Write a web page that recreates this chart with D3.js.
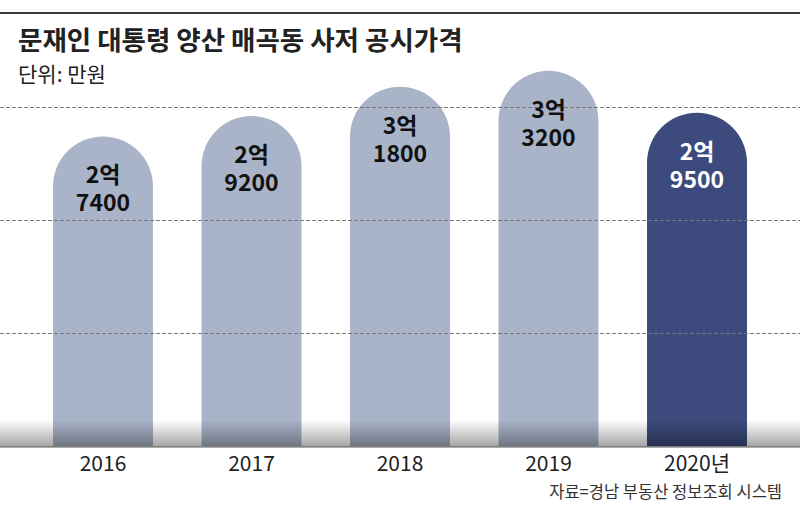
<!DOCTYPE html>
<html>
<head>
<meta charset="utf-8">
<script src="https://cdn.jsdelivr.net/npm/d3@7"></script>
<style>
body { margin: 0; background: #fff; }
text { font-family: "Noto Sans CJK KR", "Noto Sans", sans-serif; }
</style>
</head>
<body>
<script>
let years = ["2016", "2017", "2018", "2019", "2020"];
let yearLabels = ["2016", "2017", "2018", "2019", "2020년"];
let prices = [27400, 29200, 31800, 33200, 29500];
let gridValues = [10000, 20000, 30000];

let width = 800, height = 513;
let base = 446;

let svg = d3.select("body")
.append("svg")
.attr("width", width)
.attr("height", height)

let defs = svg.append("defs")
let grad = defs.append("linearGradient")
.attr("id", "shade")
.attr("x1", 0).attr("y1", 0).attr("x2", 0).attr("y2", 1)
grad.append("stop").attr("offset", "0%").attr("stop-color", "#000").attr("stop-opacity", 0)
grad.append("stop").attr("offset", "100%").attr("stop-color", "#000").attr("stop-opacity", 0.36)

// top rule
svg.append("line")
.attr("x1", 0).attr("x2", width)
.attr("y1", 13).attr("y2", 13)
.attr("stroke", "#3a3a3a").attr("stroke-width", 2)

svg.append("text")
.attr("x", 18).attr("y", 50)
.attr("font-size", 26.5).attr("font-weight", "bold").attr("fill", "#222")
.text("문재인 대통령 양산 매곡동 사저 공시가격")

svg.append("text")
.attr("x", 18).attr("y", 82)
.attr("font-size", 21).attr("fill", "#222")
.text("단위: 만원")

let x = d3.scaleBand().domain(years).range([28.75, 771.25]).paddingInner(0.327).paddingOuter(0.1635)
let y = d3.scaleLinear().domain([0, 10000]).range([base, 333])

let bw = x.bandwidth(), r = bw / 2;

function barPath(d) {
    let x0 = x(d.year), top = y(d.value);
    return `M${x0},${base} L${x0},${top + r} A${r},${r} 0 0 1 ${x0 + bw},${top + r} L${x0 + bw},${base} Z`;
}

let data = years.map((yr, i) => ({year: yr, value: prices[i], last: i == years.length - 1}))

svg.selectAll("path.bar")
.data(data)
.join("path")
.attr("class", "bar")
.attr("d", barPath)
.attr("fill", d => d.last ? "#3c4a7d" : "#a9b4c8")

// gridlines over bars
svg.selectAll("line.grid")
.data(gridValues)
.join("line")
.attr("class", "grid")
.attr("x1", 0).attr("x2", width)
.attr("y1", d => Math.round(y(d)) + 0.5).attr("y2", d => Math.round(y(d)) + 0.5)
.attr("stroke", "#777").attr("stroke-width", 1).attr("stroke-dasharray", "4,2")

// bottom shading
svg.append("rect")
.attr("x", 0).attr("y", base - 26)
.attr("width", width).attr("height", 27)
.attr("fill", "url(#shade)")

svg.append("line")
.attr("x1", 0).attr("x2", width)
.attr("y1", base + 1).attr("y2", base + 1)
.attr("stroke", "#5a5a5a").attr("stroke-width", 1.2)

let labels = svg.selectAll("g.lab")
.data(data)
.join("g")
.attr("class", "lab")
.attr("transform", d => `translate(${x(d.year) + bw / 2},${y(d.value)})`)
.attr("fill", d => d.last ? "#fff" : "#111")
.attr("font-size", 23).attr("font-weight", "bold").attr("text-anchor", "middle")

labels.append("text").attr("y", 47).text(d => Math.floor(d.value / 10000) + "억")
labels.append("text").attr("y", 75).text(d => d3.format("04")(d.value % 10000))

svg.selectAll("text.xl")
.data(years)
.join("text")
.attr("class", "xl")
.attr("x", d => x(d) + bw / 2)
.attr("y", 471)
.attr("text-anchor", "middle")
.attr("font-size", 21).attr("fill", "#222")
.text((d, i) => yearLabels[i])

svg.append("text")
.attr("x", 782).attr("y", 498)
.attr("text-anchor", "end")
.attr("font-size", 16.5).attr("fill", "#333")
.text("자료=경남 부동산 정보조회 시스템")
</script>
</body>
</html>
